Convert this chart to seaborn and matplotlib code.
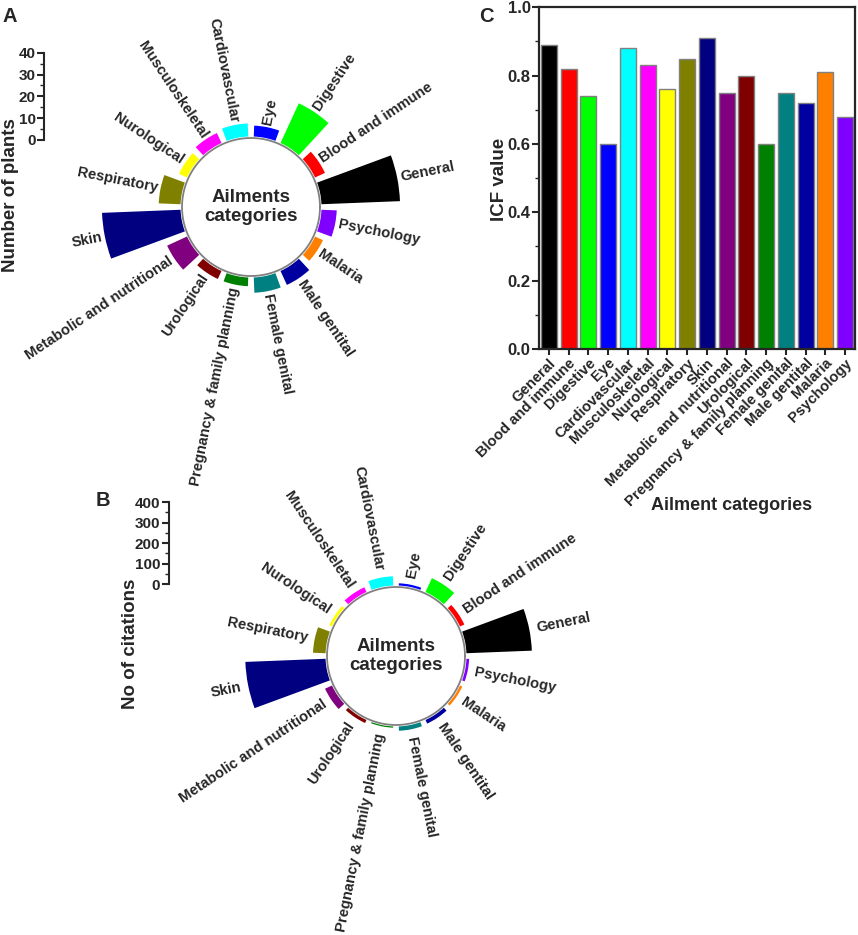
import numpy as np
import pandas as pd
import matplotlib
matplotlib.use("Agg")
import matplotlib.pyplot as plt
from matplotlib.ticker import MultipleLocator, FormatStrFormatter
import seaborn as sns

# ---- data ----
categories = ["General", "Blood and immune", "Digestive", "Eye", "Cardiovascular",
              "Musculoskeletal", "Nurological", "Respiratory", "Skin",
              "Metabolic and nutritional", "Urological", "Pregnancy & family planning",
              "Female genital", "Male gentital", "Malaria", "Psychology"]
n_plants = [36, 5, 20, 5, 6, 5, 4, 10, 36, 10, 4, 4, 7, 7, 4, 7]
n_citations = [318, 23, 74, 11, 45, 25, 14, 61, 390, 37, 16, 6, 21, 19, 12, 13]
icf_values = [0.89, 0.82, 0.74, 0.60, 0.88, 0.83, 0.76, 0.85, 0.91, 0.75,
              0.80, 0.60, 0.75, 0.72, 0.81, 0.68]

colors = ["#000000", "#FF0000", "#00FF00", "#0000FF", "#00FFFF", "#FF00FF",
          "#FFFF00", "#808000", "#000080", "#800080", "#800000", "#008000",
          "#008080", "#0000A0", "#FF8000", "#8000FF"]

W, H = 858, 935
LABEL_SIZE = 10.6

sns.set_style("ticks")
plt.rcParams["font.family"] = ["Liberation Sans", "DejaVu Sans"]
plt.rcParams["font.weight"] = "bold"
plt.rcParams["axes.labelweight"] = "bold"


def to_fig(x0, y0, x1, y1):
    """pixel box (top-left origin) -> figure fraction rect"""
    return [x0 / W, 1 - y1 / H, (x1 - x0) / W, (y1 - y0) / H]


def circular_bars(fig, values, cx, cy, hole_px, px_per_unit, pad_px):
    hole = hole_px / px_per_unit
    rmax = hole + 1.05 * max(values)
    half = rmax * px_per_unit
    ax = fig.add_axes(to_fig(cx - half, cy - half, cx + half, cy + half),
                      projection="polar")
    ax.set_ylim(0, rmax)
    ax.set_axis_off()
    slot = 2 * np.pi / len(values)
    theta = slot / 2 + slot * np.arange(len(values))
    gap = 1.5 / px_per_unit
    ax.bar(theta, values, width=slot * 0.8, bottom=hole + gap,
           color=colors, linewidth=0)
    ring = np.linspace(0, 2 * np.pi, 361)
    ax.plot(ring, np.full_like(ring, hole), color="#808080", lw=1.3)
    ax.text(0, 0, "Ailments\ncategories", ha="center", va="center",
            fontsize=13.5, fontweight="bold", linespacing=1.15)
    for t, v, name in zip(theta, values, categories):
        deg = np.degrees(t)
        if 90 < deg < 270:
            rot, ha = deg - 180, "right"
        else:
            rot, ha = (deg if deg < 90 else deg - 360), "left"
        ax.text(t, hole + gap + v + pad_px / px_per_unit, name, rotation=rot,
                ha=ha, va="center", rotation_mode="anchor", fontsize=LABEL_SIZE,
                fontweight="bold", clip_on=False)
    return ax


def scale_bar(fig, x, y_top, y_bot, top, step, label, label_xy):
    ax = fig.add_axes(to_fig(x, y_top, x + 2, y_bot))
    ax.set_ylim(0, top)
    ax.set_yticks(np.arange(0, top + 1, step))
    ax.yaxis.set_minor_locator(MultipleLocator(step / 2))
    ax.set_xticks([])
    sns.despine(ax=ax, bottom=True)
    ax.spines["left"].set_linewidth(1.5)
    ax.tick_params(axis="y", which="major", length=5, width=1.5,
                   labelsize=11, pad=1)
    ax.tick_params(axis="y", which="minor", length=3, width=1)
    ax.set_ylabel(label, fontsize=13.5, fontweight="bold")
    ax.yaxis.set_label_coords(label_xy[0] / W, 1 - label_xy[1] / H,
                              transform=fig.transFigure)
    ax.patch.set_alpha(0)
    return ax


fig = plt.figure(figsize=(W / 100, H / 100), dpi=100)

# panel A
scale_bar(fig, 44, 52.7, 140, 40, 10, "Number of plants", (19, 195))
circular_bars(fig, n_plants, 251, 207, 69, 87.3 / 40, 3)

# panel B
scale_bar(fig, 168.5, 502, 584.3, 400, 100, "No of citations", (139, 644))
circular_bars(fig, n_citations, 396, 656, 69, 82.3 / 400, 7)

# panel C
df = pd.DataFrame({"category": categories, "icf": icf_values})
ax_c = fig.add_axes(to_fig(539, 7.3, 855, 349))
sns.barplot(data=df, x="category", y="icf", hue="category", palette=colors,
            legend=False, width=0.8, edgecolor="#808080", linewidth=1,
            saturation=1, ax=ax_c)
ax_c.set_ylim(0, 1)
ax_c.set_xlim(-0.5, len(categories) - 0.5)
ax_c.yaxis.set_major_locator(MultipleLocator(0.2))
ax_c.yaxis.set_minor_locator(MultipleLocator(0.1))
ax_c.yaxis.set_major_formatter(FormatStrFormatter("%.1f"))
for s in ax_c.spines.values():
    s.set_linewidth(1.6)
ax_c.tick_params(axis="y", which="major", length=5, width=1.5, labelsize=12, pad=1)
ax_c.tick_params(axis="y", which="minor", length=3, width=1)
ax_c.tick_params(axis="x", length=4, width=1.5, labelsize=LABEL_SIZE, pad=1)
plt.setp(ax_c.get_xticklabels(), rotation=45, ha="right", rotation_mode="anchor")
ax_c.set_ylabel("ICF value", fontsize=13.5, fontweight="bold")
ax_c.yaxis.set_label_coords(508 / W, 1 - 179 / H, transform=fig.transFigure)
ax_c.set_xlabel("Ailment categories", fontsize=13, fontweight="bold")
ax_c.xaxis.set_label_coords(732 / W, 1 - 497 / H, transform=fig.transFigure)

# panel letters
for letter, (x, y) in {"A": (10, 16), "B": (103, 500), "C": (486, 16)}.items():
    fig.text(x / W, 1 - y / H, letter, fontsize=14.5, fontweight="bold",
             ha="center", va="center")

fig.savefig("out.png", dpi=100)
